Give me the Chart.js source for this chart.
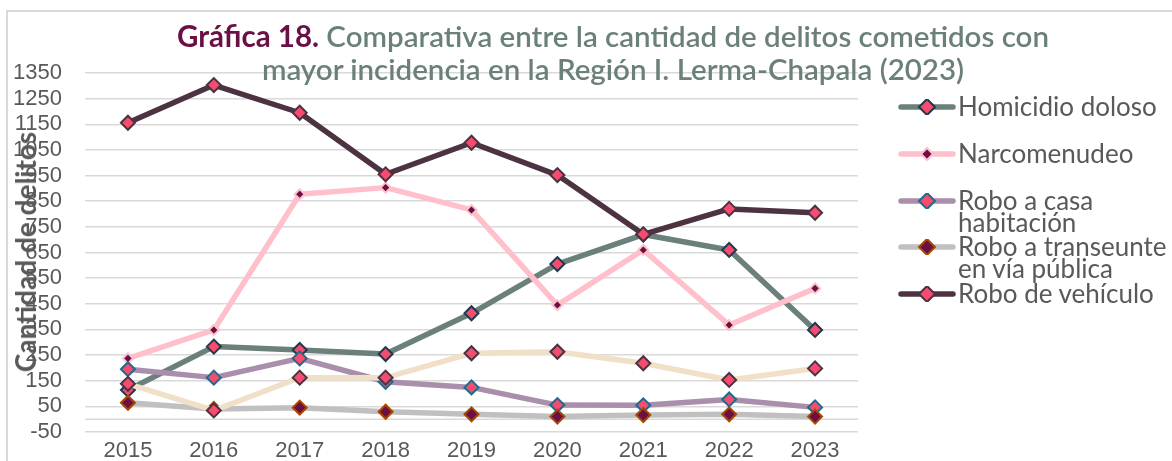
<!DOCTYPE html>
<html lang="es">
<head>
<meta charset="utf-8">
<title>Gráfica 18</title>
<script src="https://cdn.jsdelivr.net/npm/chart.js@4.4.1/dist/chart.umd.min.js"></script>
<style>
  body { margin: 0; background: #fff; }
  #wrap { position: relative; width: 1172px; height: 461px; overflow: hidden; font-family: Lato, "Open Sans", sans-serif; }
  #marco { position: absolute; left: 6px; top: 10px; width: 1200px; height: 500px; border: 2px solid #d9d9d9; box-sizing: border-box; }
  #grafica { position: absolute; left: 0; top: 0; }
  #titulo { position: absolute; left: 0; width: 1226px; top: 19px; text-align: center; font-size: 29.5px; line-height: 33px; color: #6b7f7b; font-weight: 600; }
  #titulo b { color: #6b1046; font-weight: 700; }
  #ejeY { position: absolute; left: 25px; top: 252px; transform: translate(-50%, -50%) rotate(-90deg); white-space: nowrap; font-size: 28px; font-weight: 700; color: #595959; }
  .item { position: absolute; left: 898px; }
  .item svg { position: absolute; left: 0; top: 3px; }
  .item span { position: absolute; left: 60px; top: -1px; width: 214px; font-size: 26px; line-height: 22px; color: #595959; }
</style>
</head>
<body>
<div id="wrap">
  <div id="marco"></div>
  <canvas id="grafica" width="1172" height="461"></canvas>
  <div id="titulo"><b>Gráfica 18.</b> Comparativa entre la cantidad de delitos cometidos con<br>mayor incidencia en la Región I. Lerma-Chapala (2023)</div>
  <div id="ejeY">Cantidad de delitos</div>
  <div id="leyenda"></div>
</div>
<script>
const anios = ['2015', '2016', '2017', '2018', '2019', '2020', '2021', '2022', '2023'];
const homicidio = [114, 283, 270, 254, 413, 605, 720, 660, 348];
const narcomenudeo = [237, 348, 877, 903, 816, 445, 660, 367, 510];
const roboCasa = [195, 162, 237, 146, 124, 55, 54, 77, 46];
const roboTranseunte = [64, 40, 45, 29, 19, 10, 16, 19, 10];
const roboVehiculo = [1156, 1303, 1195, 955, 1078, 952, 721, 820, 805];
const otraSerie = [138, 34, 162, 162, 257, 263, 218, 153, 198];

const series = [
    { label: 'Homicidio doloso', data: homicidio, linea: '#6b7f7b', relleno: '#f74c6f', borde: '#1d3a4f', radio: 7, leyenda: true },
    { label: 'Narcomenudeo', data: narcomenudeo, linea: '#ffc0cb', relleno: '#6b0f45', borde: '#ffc0cb', radio: 5, leyenda: true },
    { label: 'Robo a casa habitación', data: roboCasa, linea: '#a98fab', relleno: '#f74c6f', borde: '#1e6b8c', radio: 7, leyenda: true },
    { label: 'Robo a transeunte en vía pública', data: roboTranseunte, linea: '#c0c0c0', relleno: '#6b0f45', borde: '#a84a00', radio: 7, leyenda: true },
    { label: 'Robo de vehículo', data: roboVehiculo, linea: '#4d3341', relleno: '#f74c6f', borde: '#4d3341', radio: 7, leyenda: true },
    { label: 'Serie 6', data: otraSerie, linea: '#f0e0c8', relleno: '#f74c6f', borde: '#4d3341', radio: 7, leyenda: false }
];

// linea horizontal en cero (eje de categorias)
const lineaCero = {
    id: 'lineaCero',
    beforeDatasetsDraw(chart) {
        const y = chart.scales.y.getPixelForValue(0);
        const ctx = chart.ctx;
        ctx.save();
        ctx.strokeStyle = '#d9d9d9';
        ctx.lineWidth = 1.5;
        ctx.beginPath();
        ctx.moveTo(chart.chartArea.left, y);
        ctx.lineTo(chart.chartArea.right, y);
        ctx.stroke();
        ctx.restore();
    }
};

const ctx = document.getElementById('grafica').getContext('2d');
const grafica = new Chart(ctx, {
    type: 'line',
    data: {
        labels: anios,
        datasets: series.map((s, i) => ({
            label: s.label,
            data: s.data,
            borderColor: s.linea,
            borderWidth: 5.5,
            borderJoinStyle: 'round',
            tension: 0,
            pointStyle: 'rectRot',
            pointRadius: s.radio,
            pointBackgroundColor: s.relleno,
            pointBorderColor: s.borde,
            pointBorderWidth: 2,
            order: series.length - i
        }))
    },
    plugins: [lineaCero],
    options: {
        responsive: false,
        animation: false,
        layout: { padding: { top: 73, right: 314, left: 0, bottom: 0 } },
        plugins: {
            legend: { display: false },
            title: { display: false },
            tooltip: { enabled: false }
        },
        scales: {
            x: {
                offset: true,
                grid: { display: false, drawTicks: false },
                border: { display: false },
                ticks: { color: '#595959', font: { family: 'Liberation Sans', size: 22 }, padding: 6 },
                afterFit: (scale) => { scale.height = 29 }
            },
            y: {
                min: -50,
                max: 1350,
                grid: { color: '#d9d9d9', lineWidth: 1.5, drawTicks: false },
                border: { display: false },
                ticks: {
                    stepSize: 100,
                    autoSkip: false,
                    maxTicksLimit: 30,
                    color: '#595959',
                    // lineHeight corto para que el relleno del eje no recorte el area
                    font: { family: 'Liberation Sans', size: 22, lineHeight: 0.5 },
                    padding: 23,
                    callback: (v) => String(v)
                },
                afterFit: (scale) => { scale.width = 85 }
            }
        }
    }
});

// leyenda en html con muestra de linea y marcador
const leyenda = document.getElementById('leyenda');
series.filter(s => s.leyenda).forEach((s, i) => {
    const centro = 107 + i * 46.75;
    const item = document.createElement('div');
    item.className = 'item';
    item.style.top = (centro - 11) + 'px';
    const r = s.radio + 1;
    item.innerHTML =
        '<svg width="58" height="16" viewBox="0 0 58 16">' +
        '<line x1="3" y1="8" x2="55" y2="8" stroke="' + s.linea + '" stroke-width="5.5" stroke-linecap="round"/>' +
        '<polygon points="29,' + (8 - r) + ' ' + (29 + r) + ',8 29,' + (8 + r) + ' ' + (29 - r) + ',8" fill="' + s.relleno + '" stroke="' + s.borde + '" stroke-width="2"/>' +
        '</svg><span>' + s.label + '</span>';
    leyenda.appendChild(item);
});
</script>
</body>
</html>
